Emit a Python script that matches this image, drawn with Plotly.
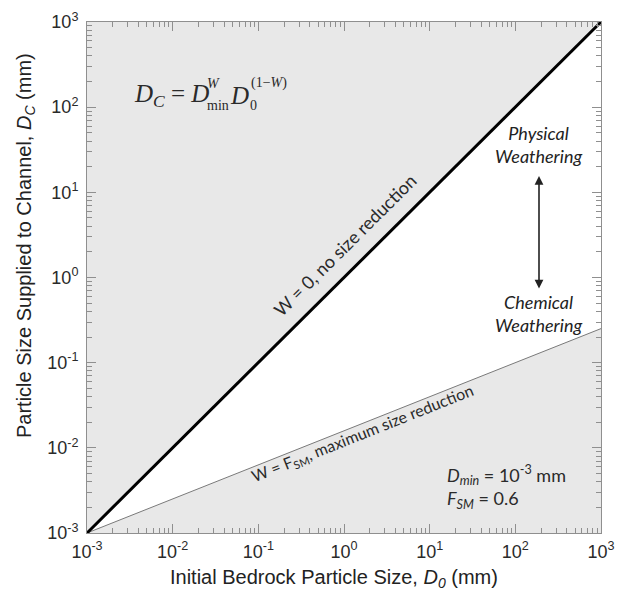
import numpy as np
import plotly.graph_objects as go

# Model parameters
D_MIN = 1e-3      # mm
F_SM = 0.6

# Initial bedrock particle sizes spanning the axis range (mm)
d0 = np.array([1e-3, 1e3])

# Axis extent and tick labels (log10 decades)
decades = [-3, -2, -1, 0, 1, 2, 3]
tick_vals = [10.0 ** d for d in decades]
tick_text = [f"10<sup>{d}</sup>" for d in decades]
minor_vals = [k * 10.0 ** d for d in decades[:-1] for k in range(2, 10)]

# Channel-supplied size for the two limiting cases of W
dc_no_reduction = D_MIN ** 0 * d0 ** (1 - 0)
dc_max_reduction = D_MIN ** F_SM * d0 ** (1 - F_SM)

FILL = "#e8e8e8"
AX = "#8f8f8f"
TXT = "#2a2a2a"

W, H = 617, 596
L, R, T, B = 87, 16, 22, 63


def dom(px, py):
    """Pixel position in the figure -> plot-area fraction."""
    return (px - L) / (W - L - R), (H - B - py) / (H - T - B)


fig = go.Figure()

# Shaded region above the 1:1 line
fig.add_trace(go.Scatter(
    x=[d0[0], d0[1], d0[0]], y=[dc_no_reduction[0], dc_no_reduction[1], d0[1]],
    fill="toself", fillcolor=FILL, line=dict(width=0), mode="lines",
    hoverinfo="skip", showlegend=False))

# Shaded region below the maximum-reduction line
fig.add_trace(go.Scatter(
    x=[d0[0], d0[1], d0[1]], y=[dc_max_reduction[0], dc_max_reduction[1], d0[0]],
    fill="toself", fillcolor=FILL, line=dict(width=0), mode="lines",
    hoverinfo="skip", showlegend=False))

# W = F_SM line
fig.add_trace(go.Scatter(x=d0, y=dc_max_reduction, mode="lines",
                         line=dict(color="#7a7a7a", width=1), showlegend=False))
# W = 0 line
fig.add_trace(go.Scatter(x=d0, y=dc_no_reduction, mode="lines",
                         line=dict(color="black", width=3), showlegend=False))

axis_common = dict(
    type="log", range=[-3, 3], tickvals=tick_vals, ticktext=tick_text,
    ticks="inside", ticklen=9, tickcolor=AX, showline=True, linecolor=AX,
    linewidth=1, mirror="ticks", showgrid=False, zeroline=False, automargin=False,
    tickfont=dict(family="Liberation Sans, Arial", size=18, color=TXT),
    minor=dict(tickmode="array", tickvals=minor_vals, ticks="inside",
               ticklen=5, tickcolor=AX, showgrid=False),
)

fig.update_layout(
    width=W, height=H,
    margin=dict(l=L, r=R, t=T, b=B),
    plot_bgcolor="white", paper_bgcolor="white",
    xaxis=dict(axis_common, ticklabelstandoff=2),
    yaxis=dict(axis_common, ticklabelstandoff=4),
)

title_font = dict(family="Liberation Sans, Arial", size=20, color="#222")
tx, ty = dom(334, 578)
fig.add_annotation(x=tx, y=ty, xref="paper", yref="paper", showarrow=False,
                   xanchor="center", yanchor="middle",
                   text="Initial Bedrock Particle Size, <i>D<sub>0</sub></i> (mm)",
                   font=title_font)
tx, ty = dom(25, 246)
fig.add_annotation(x=tx, y=ty, xref="paper", yref="paper", showarrow=False,
                   xanchor="center", yanchor="middle", textangle=-90,
                   text="Particle Size Supplied to Channel, <i>D<sub>C</sub></i> (mm)",
                   font=title_font)

# Governing equation, with stacked super/subscripts
serif = "Liberation Serif, Times New Roman"
eq_parts = [
    (132, 95, "<i>D<sub>C</sub></i> = <i>D</i>", 25),
    (205, 83, "<i>W</i>", 14),
    (205, 105, "min", 14),
    (228, 95, "<i>D</i>", 25),
    (249, 83, "(1−<i>W</i>)", 14),
    (248, 105, "0", 14),
]
for px, py, txt, sz in eq_parts:
    ex, ey = dom(px, py)
    fig.add_annotation(x=ex, y=ey, xref="paper", yref="paper", xanchor="left",
                       yanchor="middle", showarrow=False, text=txt,
                       font=dict(family=serif, size=sz, color=TXT))

# Line labels
fig.add_annotation(x=0.01, y=0.38, xref="x", yref="y",
                   text="W = 0, no size reduction", textangle=-44.8,
                   showarrow=False, font=dict(family="Lato, Open Sans", size=18, color=TXT))
fig.add_annotation(x=0.22, y=-1.83, xref="x", yref="y",
                   text="W = F<sub>SM</sub>, maximum size reduction", textangle=-21.7,
                   showarrow=False, font=dict(family="Lato, Open Sans", size=16, color=TXT))

# Weathering direction
italic_font = dict(family="Lato, Open Sans", size=18, color="#222")
px_c = 538
ax_, ay_ = dom(px_c, 144)
fig.add_annotation(x=ax_, y=ay_, xref="paper", yref="paper", xanchor="center",
                   yanchor="middle", text="<i>Physical</i><br><i>Weathering</i>",
                   showarrow=False, font=italic_font)
ax_, ay_ = dom(px_c, 313)
fig.add_annotation(x=ax_, y=ay_, xref="paper", yref="paper", xanchor="center",
                   yanchor="middle", text="<i>Chemical</i><br><i>Weathering</i>",
                   showarrow=False, font=italic_font)
hx, hy_top = dom(539, 176)
_, hy_bot = dom(539, 290)
fig.add_annotation(x=hx, y=hy_top, ax=hx, ay=hy_bot, xref="x domain", yref="y domain",
                   axref="x domain", ayref="y domain", text="", showarrow=True,
                   arrowhead=2, arrowside="end+start", arrowsize=1.1,
                   arrowwidth=1.6, arrowcolor="#222")

# Parameter box
ax_, ay_ = dom(445, 487)
fig.add_annotation(x=ax_, y=ay_, xref="paper", yref="paper", xanchor="left",
                   yanchor="middle", align="left", showarrow=False,
                   text="<i>D<sub>min</sub></i> = 10<sup>-3</sup> mm<br><i>F<sub>SM</sub></i> = 0.6",
                   font=dict(family="Lato, Open Sans", size=18, color=TXT))

fig.write_html("out.html")
